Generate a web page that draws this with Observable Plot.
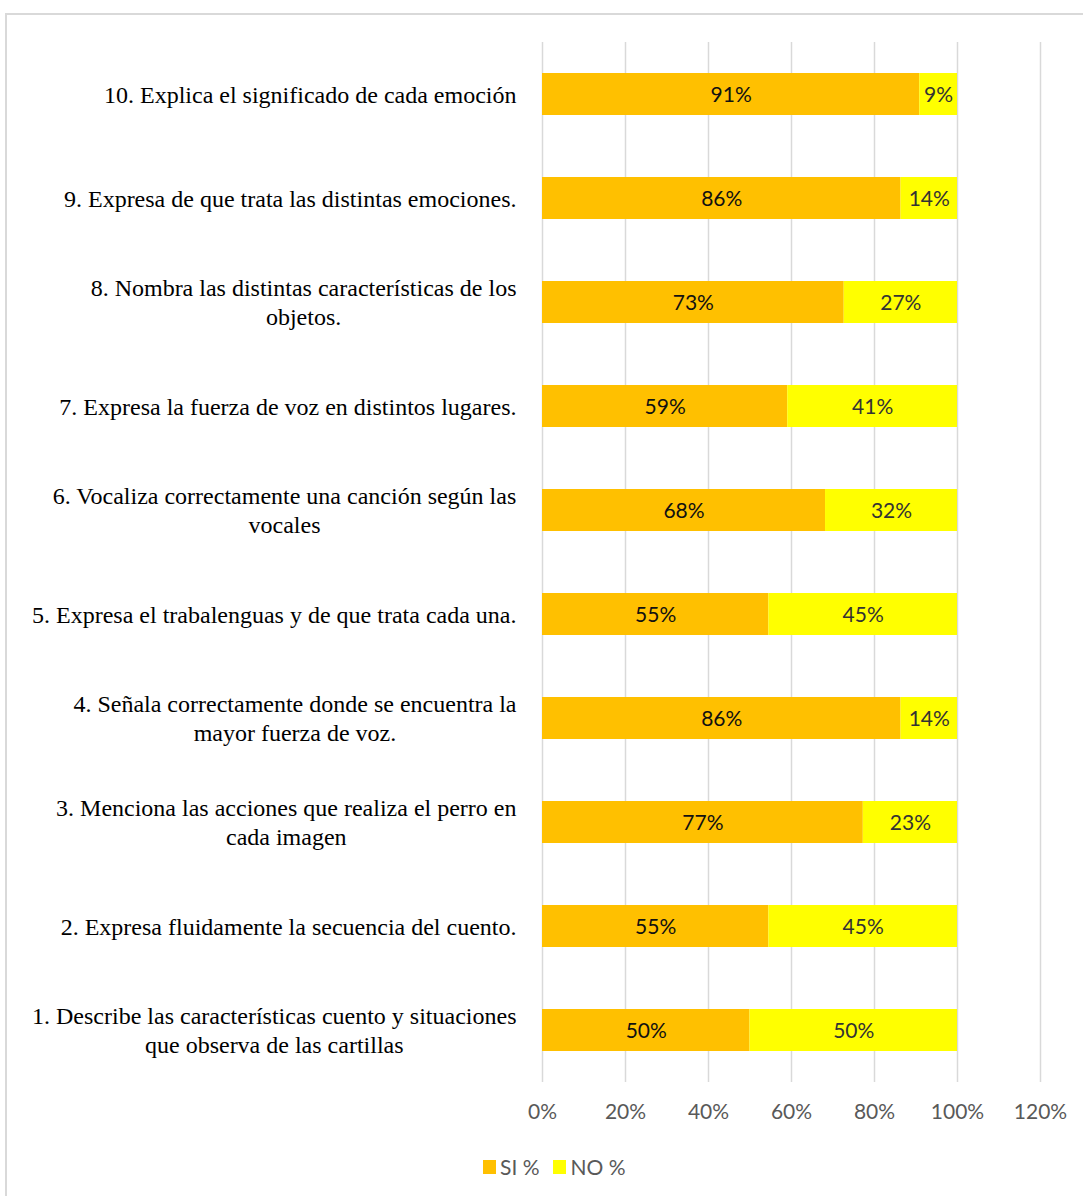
<!DOCTYPE html>
<html>
<head>
<meta charset="utf-8">
<script src="https://cdn.jsdelivr.net/npm/d3@7"></script>
<script src="https://cdn.jsdelivr.net/npm/@observablehq/plot@0.6"></script>
<style>
  html, body { margin: 0; padding: 0; background: #fff; overflow: hidden; }
  #frame { position: absolute; left: 5px; top: 13px; width: 1100px; height: 1200px; border: 2px solid #d9d9d9; box-sizing: border-box; }
  #chart { position: absolute; left: 0; top: 0; }
  #legend { position: absolute; top: 1154px; left: 483px; display: flex; align-items: center; font-family: Lato, "Open Sans", sans-serif; font-size: 21px; color: #595959; }
  .sw { width: 13px; height: 14px; display: inline-block; margin-right: 4px; }
  .item { display: flex; align-items: center; margin-right: 14px; }
</style>
</head>
<body>
<div id="frame"></div>
<div id="chart"></div>
<div id="legend"></div>
<script>
const labels = [
  "1. Describe las características cuento y situaciones\nque observa de las cartillas",
  "2. Expresa fluidamente la secuencia del cuento.",
  "3. Menciona las acciones que realiza el perro en\ncada imagen",
  "4. Señala correctamente donde se encuentra la\nmayor fuerza de voz.",
  "5. Expresa el trabalenguas y de que trata cada una.",
  "6. Vocaliza correctamente una canción según las\nvocales",
  "7. Expresa la fuerza de voz en distintos lugares.",
  "8. Nombra las distintas características de los\nobjetos.",
  "9. Expresa de que trata las distintas emociones.",
  "10. Explica el significado de cada emoción"
];
const siValues = [50, 54.55, 77.3, 86.4, 54.55, 68.2, 59.1, 72.7, 86.4, 90.9];
const noValues = [50, 45.45, 22.7, 13.6, 45.45, 31.8, 40.9, 27.3, 13.6, 9.1];
const seriesNames = ["SI %", "NO %"];
const seriesColors = ["#FFC000", "#FFFF00"];
const xTicks = [0, 20, 40, 60, 80, 100, 120];

const rows = [
  ...labels.map((c, i) => ({cat: c, series: seriesNames[0], value: siValues[i]})),
  ...labels.map((c, i) => ({cat: c, series: seriesNames[1], value: noValues[i]}))
];

const serifFont = "Liberation Serif";
const sansFont = "Lato";
const labelSize = 24;
const ctx = document.createElement("canvas").getContext("2d");
ctx.font = `${labelSize}px "${serifFont}"`;
const measure = t => ctx.measureText(t).width;

const gap = 26;
const labelMarks = labels.map(l => {
  const maxW = d3.max(l.split("\n"), measure);
  return Plot.text([l], {
    x: 0, y: d => d, text: d => d,
    dx: -(gap + maxW / 2), dy: -1, textAnchor: "middle",
    lineHeight: 1.17, fontSize: labelSize, fontFamily: serifFont, fill: "#000"
  });
});

const labelFmt = d => Math.round(d.value) + "%";

const chart = Plot.plot({
  width: 1083,
  height: 1140,
  marginLeft: 542,
  marginRight: 43,
  marginTop: 42,
  marginBottom: 58,
  style: {background: "transparent", overflow: "visible"},
  x: {domain: [0, 120], ticks: xTicks},
  y: {type: "band", domain: labels.slice().reverse(), paddingInner: 0.6, paddingOuter: 0.3, axis: null},
  color: {domain: seriesNames, range: seriesColors},
  marks: [
    Plot.gridX(xTicks, {stroke: "#d9d9d9", strokeOpacity: 1, strokeWidth: 1.5}),
    Plot.barX(rows, Plot.stackX({x: "value", y: "cat", fill: "series", order: null})),
    Plot.text(rows.filter(d => d.series === seriesNames[0]), Plot.stackX({x: "value", y: "cat", text: labelFmt, fill: "#111", fontSize: 21, fontFamily: sansFont, dy: 1})),
    Plot.text(rows, Plot.stackX({x: "value", y: "cat", z: "series", text: d => d.series === seriesNames[1] ? labelFmt(d) : "", fill: "#333", fontSize: 21, fontFamily: sansFont, dy: 1})),
    Plot.axisX(xTicks, {tickSize: 0, tickPadding: 22, tickFormat: d => d + "%", fontSize: 21, fontFamily: sansFont, fill: "#595959", label: null}),
    ...labelMarks
  ]
});
document.getElementById("chart").appendChild(chart);

const legend = document.getElementById("legend");
seriesNames.forEach((s, i) => {
  const item = document.createElement("div");
  item.className = "item";
  const sw = document.createElement("span");
  sw.className = "sw";
  sw.style.background = seriesColors[i];
  item.appendChild(sw);
  item.appendChild(document.createTextNode(s));
  legend.appendChild(item);
});
</script>
</body>
</html>
